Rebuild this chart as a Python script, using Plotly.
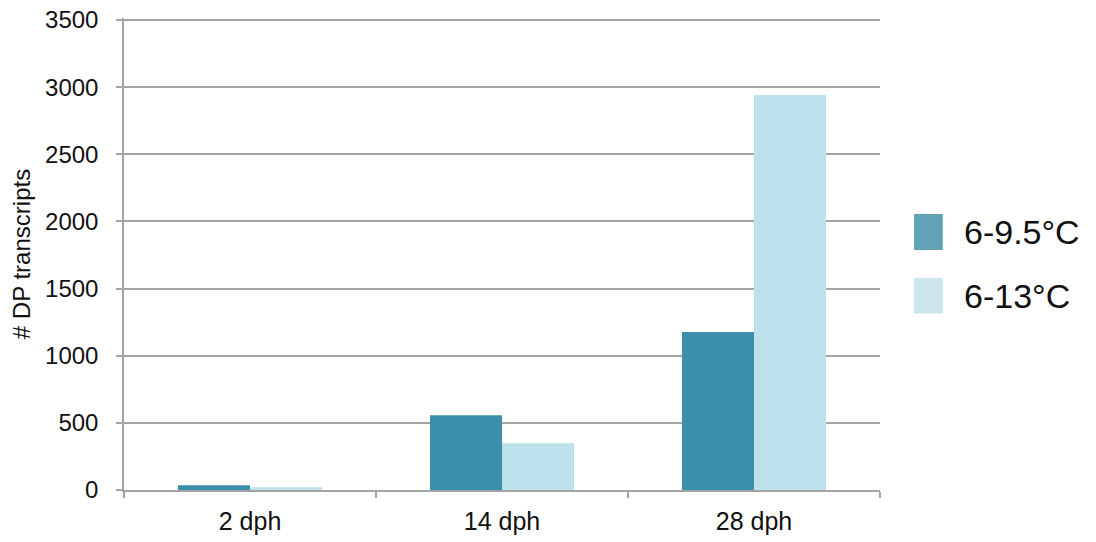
import plotly.graph_objects as go

categories = ["2 dph", "14 dph", "28 dph"]
series_a_name = "6-9.5°C"
series_b_name = "6-13°C"
series_a = [35, 556, 1177]
series_b = [20, 348, 2941]
y_ticks = [0, 500, 1000, 1500, 2000, 2500, 3000, 3500]

dark = "#3b8fab"
light = "#bde1ea"
grid = "#a3a3a3"

fig = go.Figure()
fig.add_trace(go.Bar(x=categories, y=series_a, name=series_a_name, marker=dict(color=dark, line=dict(width=0))))
fig.add_trace(go.Bar(x=categories, y=series_b, name=series_b_name, marker=dict(color=light, line=dict(width=0))))

font = "Liberation Sans, Arial, Helvetica, sans-serif"
fig.update_layout(
    width=1096, height=542,
    margin=dict(l=124, r=216, t=18, b=52, autoexpand=False),
    paper_bgcolor="white", plot_bgcolor="white",
    barmode="group", bargap=0.4286, bargroupgap=0,
    showlegend=False,
    font=dict(family=font, color="#111111"),
)
fig.update_xaxes(
    automargin=False,
    showline=True, linecolor=grid, linewidth=1.5,
    ticks="outside", tickson="boundaries", ticklen=6, tickcolor=grid, tickwidth=1.5,
    tickfont=dict(size=25, family=font), showgrid=False, ticklabelstandoff=8,
)
fig.update_yaxes(
    automargin=False,
    range=[0, 3515], tickvals=y_ticks, showline=True, linecolor=grid, linewidth=1.5,
    ticks="outside", ticklen=6, tickcolor=grid, tickwidth=1.5,
    showgrid=True, gridcolor=grid, gridwidth=1.5,
    tickfont=dict(size=24, family=font), ticklabelstandoff=13,
    title=dict(text="# DP transcripts", font=dict(size=24, family=font), standoff=8),
    zeroline=False,
)

# legend (manual, large swatches)
legend_items = [(series_a_name, "#62a2b6", 0.5085, 0.585, 0.547),
                (series_b_name, "#cce6ec", 0.374, 0.449, 0.411)]
for nm, col, y0, y1, yt in legend_items:
    fig.add_shape(type="rect", xref="paper", yref="paper",
                  x0=1.045, x1=1.083, y0=y0, y1=y1,
                  fillcolor=col, line=dict(width=0))
    fig.add_annotation(xref="paper", yref="paper", x=1.108, y=yt, text=nm,
                       showarrow=False, xanchor="left", yanchor="middle",
                       font=dict(size=34, family=font, color="#111111"))

fig.write_html("out.html", config={"displayModeBar": False},
               post_script="document.body.style.margin='0';document.body.style.overflow='hidden';")
